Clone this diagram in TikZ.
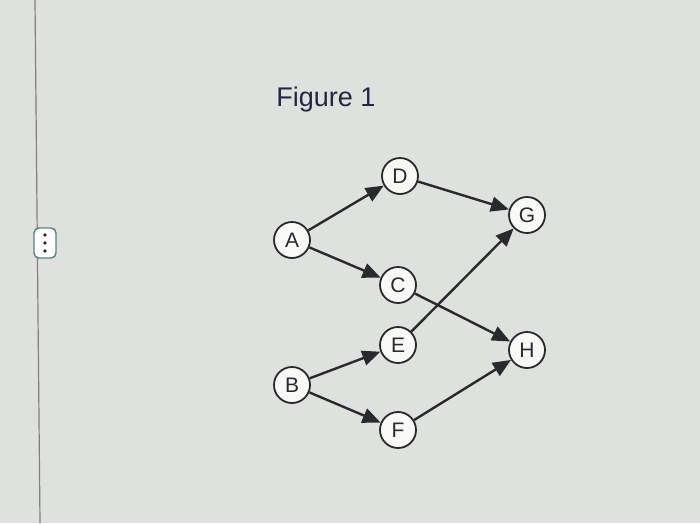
\documentclass[tikz,border=0pt]{standalone}
\usepackage{fontspec}
\setmainfont{Liberation Sans}
\usetikzlibrary{arrows.meta}
\definecolor{bg}{HTML}{DFE1DE}
\definecolor{ink}{HTML}{2A2A2E}
\begin{document}
\begin{tikzpicture}[x=1pt,y=-1pt,
  vert/.style={circle,draw=ink,line width=1.8pt,fill=white!80!bg,minimum size=36pt,inner sep=0pt,font=\fontsize{21}{24}\selectfont,text=ink},
  edge/.style={draw=ink,line width=2.4pt,-{Triangle[length=18pt,width=15pt]}}]
\fill[bg] (0,0) rectangle (700,523);
\useasboundingbox (0,0) rectangle (700,523);
\draw[gray,line width=1.2pt] (35,0) -- (40,523);
\node[draw=gray!70!teal,rounded corners=5pt,fill=white,minimum width=22pt,minimum height=30pt,line width=1.4pt] (icon) at (45,243) {};
\foreach \yy in {235,243,251} \fill[ink] (45,\yy) circle (1.8pt);
\node[font=\fontsize{27}{30}\selectfont,text=ink!90!blue] (title) at (326,100) {Figure 1};
\node[vert] (A) at (292,240) {A};
\node[vert] (D) at (400,176) {D};
\node[vert] (G) at (527,215) {G};
\node[vert] (C) at (398,285) {C};
\node[vert] (H) at (527,350) {H};
\node[vert] (E) at (398,345) {E};
\node[vert] (B) at (292,385) {B};
\node[vert] (F) at (398,430) {F};
\draw[edge] (A) -- (D);
\draw[edge] (A) -- (C);
\draw[edge] (D) -- (G);
\draw[edge] (C) -- (H);
\draw[edge] (E) -- (G);
\draw[edge] (B) -- (E);
\draw[edge] (B) -- (F);
\draw[edge] (F) -- (H);
\end{tikzpicture}
\end{document}
